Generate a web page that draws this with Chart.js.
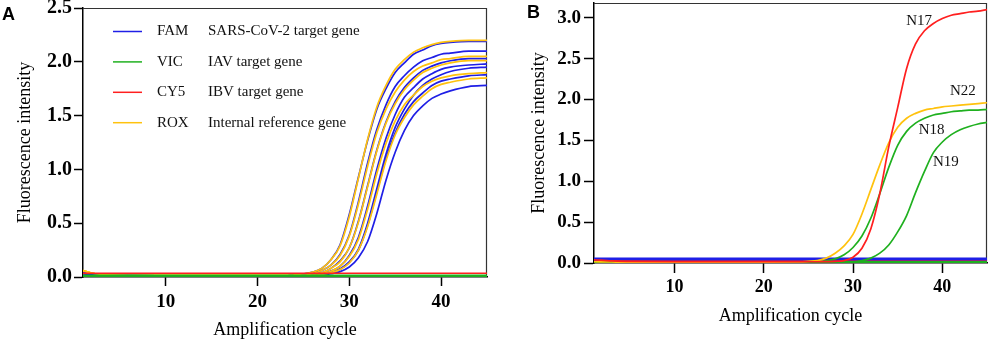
<!DOCTYPE html>
<html>
<head>
<meta charset="utf-8">
<script src="https://cdn.jsdelivr.net/npm/chart.js@4.4.0/dist/chart.umd.min.js"></script>
<style>
  body { margin: 0; background: #fff; width: 989px; height: 343px; overflow: hidden; position: relative; }
  #chartA { position: absolute; left: 0; top: 0; }
  #chartB { position: absolute; left: 500px; top: 0; }
</style>
</head>
<body>
<canvas id="chartA" width="495" height="343"></canvas>
<canvas id="chartB" width="489" height="343"></canvas>
<script>
const serif = "'Liberation Serif', 'Times New Roman', serif";
const BLUE = '#1f1fe6', GREEN = '#1fb01f', RED = '#ff1f1f', GOLD = '#ffc20e';

// ---- panel A : multiplex amplification curves
const cyclesA = [1, 2, 3, 5, 10, 15, 20, 23, 24, 25, 26, 27, 28, 29, 30, 31, 32, 33, 34, 35, 36, 37, 38, 39, 40, 41, 43, 45];
const fam1 = [0.035, 0.025, 0.018, 0.012, 0.01, 0.01, 0.01, 0.01, 0.02, 0.03, 0.045, 0.08, 0.16, 0.30, 0.58, 0.93, 1.27, 1.56, 1.75, 1.90, 1.99, 2.07, 2.11, 2.15, 2.17, 2.18, 2.19, 2.19];
const rox1 = [0.06, 0.035, 0.025, 0.015, 0.012, 0.012, 0.012, 0.012, 0.02, 0.03, 0.045, 0.08, 0.16, 0.29, 0.56, 0.92, 1.28, 1.58, 1.78, 1.93, 2.02, 2.09, 2.13, 2.16, 2.18, 2.19, 2.20, 2.20];
const fam2 = [0.035, 0.025, 0.018, 0.012, 0.01, 0.01, 0.01, 0.01, 0.015, 0.02, 0.03, 0.06, 0.11, 0.21, 0.39, 0.70, 1.06, 1.37, 1.60, 1.77, 1.87, 1.95, 2.01, 2.04, 2.07, 2.08, 2.10, 2.10];
const rox2 = [0.06, 0.035, 0.025, 0.015, 0.012, 0.012, 0.012, 0.012, 0.015, 0.02, 0.03, 0.06, 0.11, 0.20, 0.38, 0.68, 1.03, 1.34, 1.56, 1.72, 1.83, 1.91, 1.96, 1.99, 2.02, 2.03, 2.05, 2.05];
const fam3 = [0.035, 0.025, 0.018, 0.012, 0.01, 0.01, 0.01, 0.01, 0.015, 0.02, 0.025, 0.04, 0.08, 0.15, 0.27, 0.52, 0.85, 1.18, 1.44, 1.63, 1.76, 1.85, 1.92, 1.96, 1.99, 2.01, 2.03, 2.03];
const rox3 = [0.06, 0.035, 0.025, 0.015, 0.012, 0.012, 0.012, 0.012, 0.015, 0.02, 0.025, 0.04, 0.08, 0.14, 0.27, 0.51, 0.84, 1.17, 1.43, 1.61, 1.74, 1.83, 1.90, 1.94, 1.97, 1.99, 2.01, 2.01];
const fam4 = [0.035, 0.025, 0.018, 0.012, 0.01, 0.01, 0.01, 0.01, 0.01, 0.015, 0.02, 0.03, 0.055, 0.10, 0.20, 0.37, 0.66, 1.00, 1.29, 1.51, 1.67, 1.76, 1.84, 1.89, 1.93, 1.95, 1.97, 1.98];
const rox4 = [0.06, 0.035, 0.025, 0.015, 0.012, 0.012, 0.012, 0.012, 0.012, 0.015, 0.02, 0.03, 0.053, 0.10, 0.19, 0.35, 0.63, 0.96, 1.24, 1.45, 1.60, 1.69, 1.77, 1.82, 1.85, 1.87, 1.89, 1.90];
const fam5 = [0.035, 0.025, 0.018, 0.012, 0.01, 0.01, 0.01, 0.01, 0.01, 0.015, 0.02, 0.025, 0.04, 0.075, 0.14, 0.26, 0.50, 0.82, 1.14, 1.39, 1.56, 1.69, 1.78, 1.84, 1.88, 1.91, 1.94, 1.95];
const fam6 = [0.035, 0.025, 0.018, 0.012, 0.01, 0.01, 0.01, 0.01, 0.01, 0.014, 0.017, 0.025, 0.04, 0.072, 0.135, 0.25, 0.48, 0.79, 1.10, 1.34, 1.51, 1.63, 1.71, 1.78, 1.82, 1.84, 1.87, 1.88];
const rox5 = [0.06, 0.035, 0.025, 0.015, 0.012, 0.012, 0.012, 0.012, 0.012, 0.014, 0.017, 0.025, 0.04, 0.07, 0.13, 0.25, 0.47, 0.77, 1.08, 1.32, 1.48, 1.60, 1.68, 1.75, 1.79, 1.81, 1.84, 1.85];
const fam7 = [0.035, 0.025, 0.018, 0.012, 0.01, 0.01, 0.01, 0.01, 0.01, 0.01, 0.014, 0.019, 0.03, 0.05, 0.093, 0.18, 0.33, 0.59, 0.90, 1.16, 1.36, 1.50, 1.59, 1.66, 1.70, 1.73, 1.77, 1.78];
const flatCycles = [1, 45];
const vicA = [0.012, 0.012];
const cy5A = [0.034, 0.034];

const legendDyes = ['FAM', 'VIC', 'CY5', 'ROX'];
const legendGenes = ['SARS-CoV-2 target gene', 'IAV target gene', 'IBV target gene', 'Internal reference gene'];
const legendColors = [BLUE, GREEN, RED, GOLD];

const xTicksA = [10, 20, 30, 40];
const yTicksA = [0, 0.5, 1, 1.5, 2, 2.5];

// ---- panel B : single target samples
const cyclesB = [1, 3, 5, 10, 15, 20, 24, 25, 26, 27, 28, 29, 30, 31, 32, 33, 34, 35, 36, 37, 38, 39, 40, 41, 42, 43, 44, 45];
const n17 = [0.04, 0.025, 0.02, 0.015, 0.015, 0.015, 0.015, 0.015, 0.015, 0.017, 0.02, 0.03, 0.07, 0.18, 0.42, 0.85, 1.42, 1.90, 2.38, 2.68, 2.84, 2.93, 2.99, 3.03, 3.05, 3.07, 3.08, 3.10];
const n22 = [0.015, 0.012, 0.01, 0.01, 0.01, 0.01, 0.012, 0.02, 0.03, 0.06, 0.12, 0.21, 0.35, 0.60, 0.90, 1.20, 1.47, 1.66, 1.77, 1.83, 1.87, 1.89, 1.91, 1.92, 1.93, 1.94, 1.95, 1.96];
const n18 = [0.012, 0.01, 0.01, 0.01, 0.01, 0.01, 0.01, 0.012, 0.015, 0.025, 0.05, 0.10, 0.19, 0.33, 0.55, 0.85, 1.17, 1.44, 1.61, 1.71, 1.77, 1.81, 1.83, 1.85, 1.86, 1.87, 1.87, 1.88];
const n19 = [0.012, 0.01, 0.01, 0.01, 0.01, 0.01, 0.01, 0.01, 0.01, 0.01, 0.01, 0.01, 0.012, 0.03, 0.06, 0.12, 0.22, 0.38, 0.58, 0.86, 1.12, 1.35, 1.48, 1.57, 1.63, 1.67, 1.70, 1.72];
const famB = [0.048, 0.048];
const cy5B = [0.03, 0.03];
const vicB = [0.01, 0.01];

const curveLabels = ['N17', 'N22', 'N18', 'N19'];
const labelCycle = [37.4, 42.3, 38.8, 40.4];
const labelValue = [2.96, 2.10, 1.62, 1.24];

const xTicksB = [10, 20, 30, 40];
const yTicksB = [0, 0.5, 1, 1.5, 2, 2.5, 3];

// helpers
const pts = (xs, ys) => xs.map((x, i) => ({ x: x, y: ys[i] }));
const line = (xs, ys, color, w) => ({
  data: pts(xs, ys), borderColor: color, backgroundColor: color,
  borderWidth: w || 1.7, pointRadius: 0, fill: false, cubicInterpolationMode: 'monotone'
});

function axes(o) {
  return {
    x: {
      type: 'linear', min: 1, max: 45,
      afterFit: s => { s.height = o.xh; s.paddingLeft = 0; s.paddingRight = 0; },
      afterBuildTicks: s => { s.ticks = o.xt.map(v => ({ value: v })); },
      grid: { display: true, drawOnChartArea: false, tickLength: o.tl, tickColor: '#000', tickWidth: 1.5 },
      border: { display: true, color: '#000', width: 1.5 },
      ticks: { padding: o.xpad, color: '#000', maxRotation: 0, autoSkip: false,
               font: { family: serif, size: o.tick, weight: 'bold' } },
      title: { display: true, text: 'Amplification cycle', color: '#000',
               font: { family: serif, size: 18 }, padding: { top: 0, bottom: o.xtb } }
    },
    y: {
      min: 0, max: o.ymax,
      afterFit: s => { s.width = o.yw; s.paddingTop = 0; s.paddingBottom = 0; },
      afterBuildTicks: s => { s.ticks = o.yt.map(v => ({ value: v })); },
      grid: { display: true, drawOnChartArea: false, tickLength: o.tl, tickColor: '#000', tickWidth: 1.5 },
      border: { display: true, color: '#000', width: 1.5 },
      ticks: { padding: o.ypad, color: '#000', callback: v => v.toFixed(1),
               font: { family: serif, size: o.ytick, weight: 'bold' } },
      title: { display: true, text: 'Fluorescence intensity', color: '#000',
               font: { family: serif, size: 18 }, padding: { top: o.ytt, bottom: 0 } }
    }
  };
}

// top/right frame and panel letter
function framePlugin(letter, lx, ly) {
  return {
    id: 'frame' + letter,
    beforeDatasetsDraw(chart) {
      const { ctx, chartArea: a } = chart;
      ctx.save();
      ctx.strokeStyle = '#333';
      ctx.lineWidth = 1.2;
      ctx.beginPath();
      ctx.moveTo(a.left, a.top + 0.5);
      ctx.lineTo(a.right - 0.5, a.top + 0.5);
      ctx.lineTo(a.right - 0.5, a.bottom);
      ctx.stroke();
      ctx.restore();
    },
    afterDraw(chart) {
      const ctx = chart.ctx;
      ctx.save();
      ctx.fillStyle = '#000';
      ctx.font = "bold 18px 'Liberation Sans', Arial, sans-serif";
      ctx.textBaseline = 'alphabetic';
      ctx.fillText(letter, lx, ly);
      ctx.restore();
    }
  };
}

const legendPlugin = {
  id: 'dyeLegend',
  afterDraw(chart) {
    const { ctx, chartArea: a } = chart;
    ctx.save();
    ctx.font = '15px ' + serif;
    ctx.textBaseline = 'middle';
    ctx.fillStyle = '#111';
    legendDyes.forEach((d, i) => {
      const y = a.top + 23.5 + i * 30.4;
      ctx.strokeStyle = legendColors[i];
      ctx.lineWidth = 1.5;
      ctx.beginPath();
      ctx.moveTo(a.left + 30, y);
      ctx.lineTo(a.left + 59, y);
      ctx.stroke();
      ctx.fillText(d, a.left + 74, y);
      ctx.fillText(legendGenes[i], a.left + 125, y);
    });
    ctx.restore();
  }
};

const curveLabelPlugin = {
  id: 'curveLabels',
  afterDatasetsDraw(chart) {
    const { ctx, scales } = chart;
    ctx.save();
    ctx.font = '15px ' + serif;
    ctx.textAlign = 'center';
    ctx.textBaseline = 'middle';
    ctx.fillStyle = '#111';
    curveLabels.forEach((t, i) => {
      ctx.fillText(t, scales.x.getPixelForValue(labelCycle[i]), scales.y.getPixelForValue(labelValue[i]));
    });
    ctx.restore();
  }
};

new Chart(document.getElementById('chartA'), {
  type: 'line',
  data: {
    datasets: [
      line(flatCycles, vicA, GREEN, 2.5),
      line(flatCycles, cy5A, RED, 1.5),
      line(cyclesA, rox1, GOLD),
      line(cyclesA, fam1, BLUE),
      line(cyclesA, rox2, GOLD),
      line(cyclesA, fam2, BLUE),
      line(cyclesA, rox3, GOLD),
      line(cyclesA, fam3, BLUE),
      line(cyclesA, rox4, GOLD),
      line(cyclesA, fam4, BLUE),
      line(cyclesA, rox5, GOLD),
      line(cyclesA, fam5, BLUE),
      line(cyclesA, fam6, BLUE),
      line(cyclesA, fam7, BLUE)
    ]
  },
  options: {
    responsive: false, animation: false,
    layout: { padding: { left: 0, right: 8, top: 8, bottom: 0 } },
    plugins: { legend: { display: false }, tooltip: { enabled: false } },
    scales: axes({ xh: 66, yw: 83, tl: 9, xpad: 5, ypad: 2, tick: 19, ytick: 20, xtb: 2, ytt: 14,
                   ymax: 2.5, xt: xTicksA, yt: yTicksA })
  },
  plugins: [framePlugin('A', 2, 20), legendPlugin]
});

new Chart(document.getElementById('chartB'), {
  type: 'line',
  data: {
    datasets: [
      line(cyclesB, n17, RED),
      line(cyclesB, n22, GOLD),
      line(cyclesB, n18, GREEN),
      line(cyclesB, n19, GREEN),
      line(flatCycles, vicB, GREEN, 2.5),
      line(flatCycles, famB, BLUE, 3),
      line(flatCycles, cy5B, RED, 1.5)
    ]
  },
  options: {
    responsive: false, animation: false,
    layout: { padding: { left: 0, right: 2, top: 3, bottom: 0 } },
    plugins: { legend: { display: false }, tooltip: { enabled: false } },
    scales: axes({ xh: 80, yw: 94, tl: 10, xpad: 4, ypad: 3, tick: 18, ytick: 19, xtb: 16, ytt: 28,
                   ymax: 3.18, xt: xTicksB, yt: yTicksB })
  },
  plugins: [framePlugin('B', 27, 18), curveLabelPlugin]
});
</script>
</body>
</html>
